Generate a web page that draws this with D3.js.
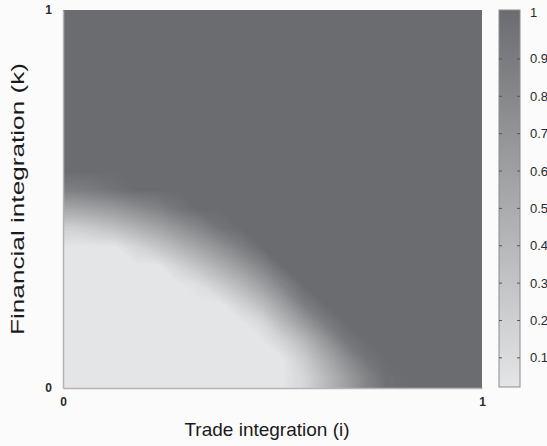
<!DOCTYPE html>
<html><head><meta charset="utf-8">
<script src="https://cdn.jsdelivr.net/npm/d3@7/dist/d3.min.js"></script>
<style>html,body{margin:0;padding:0;background:#fbfbfb;} svg{display:block;}</style>
</head><body>
<svg id="chart" width="547" height="446"></svg>
<script>
// cell centres of the sampled grid (trade integration i, financial integration k)
const iCenters = [0.025,0.075,0.125,0.175,0.225,0.275,0.325,0.375,0.425,0.475,0.525,0.575,0.625,0.675,0.725,0.775,0.825,0.875,0.925,0.975];
const kCenters = [0.025,0.075,0.125,0.175,0.225,0.275,0.325,0.375,0.425,0.475,0.525,0.575,0.625,0.675,0.725,0.775,0.825,0.875,0.925,0.975];
// values[row k][col i], row 0 = lowest k
const values = [
 [0.02,0.02,0.02,0.02,0.02,0.02,0.02,0.02,0.02,0.02,0.02,0.14,0.36,0.58,0.80,0.97,1,1,1,1],
 [0.02,0.02,0.02,0.02,0.02,0.02,0.02,0.02,0.02,0.02,0.02,0.22,0.47,0.71,0.93,1,1,1,1,1],
 [0.02,0.02,0.02,0.02,0.02,0.02,0.02,0.02,0.02,0.02,0.17,0.38,0.64,0.90,1,1,1,1,1,1],
 [0.02,0.02,0.02,0.02,0.02,0.02,0.02,0.02,0.02,0.13,0.39,0.63,0.87,1,1,1,1,1,1,1],
 [0.02,0.02,0.02,0.02,0.02,0.02,0.02,0.02,0.18,0.36,0.60,0.87,1,1,1,1,1,1,1,1],
 [0.02,0.02,0.02,0.02,0.02,0.02,0.08,0.24,0.40,0.59,0.82,1,1,1,1,1,1,1,1,1],
 [0.02,0.02,0.02,0.02,0.02,0.17,0.32,0.47,0.63,0.81,1,1,1,1,1,1,1,1,1,1],
 [0.02,0.02,0.03,0.15,0.28,0.42,0.56,0.70,0.86,1,1,1,1,1,1,1,1,1,1,1],
 [0.20,0.26,0.34,0.44,0.55,0.67,0.80,0.94,1,1,1,1,1,1,1,1,1,1,1,1],
 [0.53,0.58,0.64,0.73,0.82,0.93,1,1,1,1,1,1,1,1,1,1,1,1,1,1],
 [0.85,0.89,0.95,1,1,1,1,1,1,1,1,1,1,1,1,1,1,1,1,1],
 [1,1,1,1,1,1,1,1,1,1,1,1,1,1,1,1,1,1,1,1],
 [1,1,1,1,1,1,1,1,1,1,1,1,1,1,1,1,1,1,1,1],
 [1,1,1,1,1,1,1,1,1,1,1,1,1,1,1,1,1,1,1,1],
 [1,1,1,1,1,1,1,1,1,1,1,1,1,1,1,1,1,1,1,1],
 [1,1,1,1,1,1,1,1,1,1,1,1,1,1,1,1,1,1,1,1],
 [1,1,1,1,1,1,1,1,1,1,1,1,1,1,1,1,1,1,1,1],
 [1,1,1,1,1,1,1,1,1,1,1,1,1,1,1,1,1,1,1,1],
 [1,1,1,1,1,1,1,1,1,1,1,1,1,1,1,1,1,1,1,1],
 [1,1,1,1,1,1,1,1,1,1,1,1,1,1,1,1,1,1,1,1]
];
const xTicks = [0, 1];
const yTicks = [0, 1];
const cbTicks = [0.1,0.2,0.3,0.4,0.5,0.6,0.7,0.8,0.9,1];
const cbTickLabels = ["0.1","0.2","0.3","0.4","0.5","0.6","0.7","0.8","0.9","1"];
const xTitle = "Trade integration (i)";
const yTitle = "Financial integration (k)";

const svg = d3.select("#chart");
const P = {left:63, right:482, top:10, bottom:388};
const x = d3.scaleLinear().domain([0,1]).range([P.left, P.right]);
const y = d3.scaleLinear().domain([0,1]).range([P.bottom, P.top]);
const colorLo = "#e4e5e7", colorHi = "#6b6c6f";
const color = d3.scaleLinear().domain([0.02, 1]).range([colorLo, colorHi]).clamp(true);

// heat map drawn as many filled contour bands of the sampled grid
// (the grid is framed by one repeated edge sample so bands reach the plot border)
const nI = iCenters.length, nK = kCenters.length;
const gw = nI + 2, gh = nK + 2;
const flat = [];
for (let r = gh - 1; r >= 0; r--) {
  const m = Math.min(nK - 1, Math.max(0, r - 1));
  for (let c = 0; c < gw; c++) {
    const j = Math.min(nI - 1, Math.max(0, c - 1));
    flat.push(values[m][j]);
  }
}
const thresholds = d3.range(3, 101).map(d => d / 100);
const bands = d3.contours().size([gw, gh]).smooth(true).thresholds(thresholds)(flat);
const halfI = (iCenters[1]-iCenters[0])/2, halfK = (kCenters[1]-kCenters[0])/2;
const X0 = x(iCenters[0]-halfI), X1 = x(iCenters[nI-1]+halfI);
const Y0 = y(kCenters[nK-1]+halfK), Y1 = y(kCenters[0]-halfK);
const cw = (X1 - X0) / nI, ch = (Y1 - Y0) / nK;
const proj = d3.geoTransform({ point(px, py) { this.stream.point(X0 + (px - 1) * cw, Y0 + (py - 1) * ch); } });
const path = d3.geoPath(proj);
svg.append("clipPath").attr("id","plotclip").append("rect")
  .attr("x", X0).attr("y", Y0).attr("width", X1-X0).attr("height", Y1-Y0);
const gMap = svg.append("g").attr("clip-path","url(#plotclip)");
gMap.append("rect").attr("x", X0).attr("y", Y0).attr("width", X1-X0).attr("height", Y1-Y0)
  .attr("fill", color(0.02));
gMap.selectAll("path").data(bands).join("path")
  .attr("d", path).attr("fill", d => color(d.value))
  .attr("stroke", d => color(d.value)).attr("stroke-width", 0.8);

// axes
const fontAxis = "'Liberation Sans', Arial, sans-serif";
const gx = svg.append("g").attr("transform", `translate(0,${P.bottom})`)
  .call(d3.axisBottom(x).tickValues(xTicks).tickFormat(d3.format("d")).tickSize(0).tickSizeOuter(0).tickPadding(9));
const gy = svg.append("g").attr("transform", `translate(${P.left},0)`)
  .call(d3.axisLeft(y).tickValues(yTicks).tickFormat(d3.format("d")).tickSize(0).tickSizeOuter(0).tickPadding(11));
[gx, gy].forEach(g => {
  g.select(".domain").attr("stroke", "#b4b4b4").attr("stroke-width", 1.5);
  g.selectAll("text").attr("fill", "#2a2a2a").style("font-family", fontAxis)
    .style("font-size", "12px").style("font-weight", "bold");
});

// colourbar
const CB = {x:499, w:21};
const cbMin = 0.022, cbMax = 1.031;
const cy = d3.scaleLinear().domain([cbMin, cbMax]).range([387, P.top]);
const defs = svg.append("defs");
const grad = defs.append("linearGradient").attr("id","cbgrad")
  .attr("x1","0").attr("y1","1").attr("x2","0").attr("y2","0");
grad.append("stop").attr("offset","0").attr("stop-color", color(cbMin));
grad.append("stop").attr("offset","1").attr("stop-color", color(cbMax));
svg.append("rect").attr("x", CB.x).attr("y", cy(cbMax)).attr("width", CB.w)
  .attr("height", cy(cbMin)-cy(cbMax)).attr("fill","url(#cbgrad)")
  .attr("stroke","#8c8c8c").attr("stroke-width",1);
const inner = cbTicks.slice(0, -1);
const cbt = svg.append("g");
cbt.selectAll("line.l").data(inner).join("line").attr("class","l")
  .attr("x1", CB.x).attr("x2", CB.x+3).attr("y1", d=>cy(d)).attr("y2", d=>cy(d))
  .attr("stroke","#555").attr("stroke-width",1);
cbt.selectAll("line.r").data(inner).join("line").attr("class","r")
  .attr("x1", CB.x+CB.w-3).attr("x2", CB.x+CB.w).attr("y1", d=>cy(d)).attr("y2", d=>cy(d))
  .attr("stroke","#555").attr("stroke-width",1);
cbt.selectAll("text").data(cbTicks).join("text")
  .attr("x", CB.x+CB.w+10)
  .attr("y", d => d === 1 ? cy(cbMax) + 2 : cy(d))
  .attr("dy","0.35em")
  .attr("fill","#2a2a2a").style("font-family", fontAxis).style("font-size","13px")
  .text((d,i)=>cbTickLabels[i]);

// titles
svg.append("text").attr("x", 267).attr("y", 436).attr("text-anchor","middle")
  .attr("fill","#1a1a1a").style("font-family", fontAxis).style("font-size","19px").text(xTitle);
svg.append("text").attr("transform", `translate(24,${(P.top+P.bottom)/2}) rotate(-90)`)
  .attr("text-anchor","middle").attr("textLength", 272).attr("lengthAdjust","spacingAndGlyphs")
  .attr("fill","#1a1a1a").style("font-family", fontAxis).style("font-size","19px").text(yTitle);
</script>
</body></html>
